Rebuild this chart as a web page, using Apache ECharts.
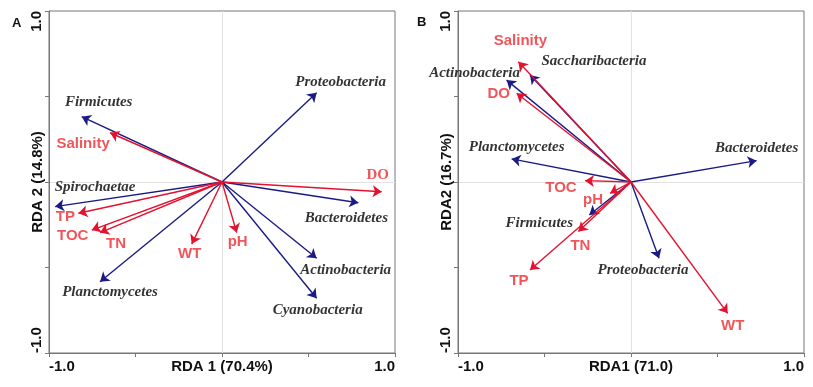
<!DOCTYPE html>
<html>
<head>
<meta charset="utf-8">
<script src="https://cdn.jsdelivr.net/npm/echarts@6/dist/echarts.min.js"></script>
<style>
html,body{margin:0;padding:0;background:#fff;}
#chart{width:813px;height:387px;}
</style>
</head>
<body>
<div id="chart"></div>
<script>
// ---------- Data ----------
// Panel A
var aSpeciesNames = ['Proteobacteria','Firmicutes','Spirochaetae','Bacteroidetes','Actinobacteria','Cyanobacteria','Planctomycetes'];
var aSpeciesX = [0.547,-0.811,-0.965,0.788,0.547,0.547,-0.705];
var aSpeciesY = [0.522,0.382,-0.144,-0.121,-0.446,-0.680,-0.583];
var aEnvNames = ['Salinity','DO','TP','TOC','TN','WT','pH'];
var aEnvX = [-0.647,0.923,-0.830,-0.753,-0.705,-0.175,0.085];
var aEnvY = [0.288,-0.057,-0.183,-0.281,-0.296,-0.363,-0.296];
// Panel B
var bSpeciesNames = ['Saccharibacteria','Actinobacteria','Planctomycetes','Bacteroidetes','Firmicutes','Proteobacteria'];
var bSpeciesX = [-0.584,-0.719,-0.690,0.726,-0.241,0.162];
var bSpeciesY = [0.626,0.596,0.135,0.125,-0.193,-0.446];
var bEnvNames = ['Salinity','DO','TOC','pH','TN','TP','WT'];
var bEnvX = [-0.651,-0.661,-0.266,-0.121,-0.304,-0.584,0.559];
var bEnvY = [0.703,0.519,0.008,-0.066,-0.290,-0.515,-0.768];
// Axis text
var axisTicks = [-1.0,-0.5,0,0.5,1.0];
var aAxisNames = ['RDA 1 (70.4%)','RDA 2 (14.8%)'];
var bAxisNames = ['RDA1 (71.0)','RDA2 (16.7%)'];
var panelLetters = ['A','B'];

// ---------- Layout (label offsets in px from arrow tips) ----------
var aSpeciesOff = [[24,-11],[17,-15],[40,-19],[-12,15],[29,12],[1,12],[10,10]];
var aEnvOff = [[-27,11],[-4,-17],[-13,4],[-19,6],[16,11],[-2,10],[1,9]];
var bSpeciesOff = [[64,-14],[-32,-7],[5,-12],[0,-13],[-50,8],[-16,12]];
var bEnvOff = [[2,-21],[-18,1],[-24,7],[-17,7],[2,14],[-11,11],[5,13]];

var BLUE = '#1b1b86';
var RED = '#e3122e';
var RED_TXT = '#ec2a30';
var AXIS_COL = '#777';
var SANS = '"Liberation Sans",Arial,sans-serif';
var SERIF = '"Liberation Serif","Times New Roman",serif';

function arrowSeries(idx, xs, ys, color){
  return {
    type:'lines', coordinateSystem:'cartesian2d', xAxisIndex:idx, yAxisIndex:idx,
    symbol:['none','arrow'], symbolSize:9, silent:true, z:10,
    lineStyle:{color:color, width:1.4, opacity:1},
    data: xs.map(function(x,i){ return {coords:[[0,0],[x, ys[i]]]}; })
  };
}
function labelSeries(idx, names, xs, ys, offs, species, serifNames){
  return {
    type:'scatter', xAxisIndex:idx, yAxisIndex:idx, symbolSize:0, silent:true, z:12,
    data: names.map(function(n,i){
      var serif = species || (serifNames && serifNames.indexOf(n) >= 0);
      return {
        name:n, value:[xs[i], ys[i]],
        label:{
          show:true, position:'inside', offset:offs[i], formatter:n,
          fontFamily: serif ? SERIF : SANS,
          fontStyle: species ? 'italic' : 'normal',
          fontWeight:'bold', fontSize:15,
          color: species ? '#000' : RED_TXT
        }
      };
    })
  };
}
function centerLines(idx){
  return {
    type:'scatter', xAxisIndex:idx, yAxisIndex:idx, symbolSize:0, silent:true, z:0, data:[],
    markLine:{silent:true, symbol:'none', label:{show:false}, z:0,
      lineStyle:{color:'#e2e2e2', type:'solid', width:1},
      data:[{xAxis:0},{yAxis:0}]}
  };
}
function xAx(idx, name){
  return {
    gridIndex:idx, type:'value', min:-1, max:1, interval:0.5,
    name:name, nameLocation:'middle', nameGap:6, nameMoveOverlap:false,
    nameTextStyle:{fontFamily:SANS, fontWeight:'bold', fontSize:15, color:'#111', verticalAlign:'top'},
    axisLine:{show:true, onZero:false, lineStyle:{color:AXIS_COL, width:1}},
    axisTick:{show:true, inside:false, length:4, lineStyle:{color:AXIS_COL}},
    splitLine:{show:false},
    axisLabel:{show:true, margin:6, fontFamily:SANS, fontWeight:'bold', fontSize:15, color:'#111',
      alignMinLabel:'left', alignMaxLabel:'right',
      formatter:function(v){ return (v===axisTicks[0]||v===axisTicks[4]) ? v.toFixed(1) : ''; }}
  };
}
function yAx(idx, name){
  return {
    gridIndex:idx, type:'value', min:-1, max:1, interval:0.5,
    name:name, nameLocation:'middle', nameGap:4, nameRotate:90, nameMoveOverlap:false,
    nameTextStyle:{fontFamily:SANS, fontWeight:'bold', fontSize:15, color:'#111'},
    axisLine:{show:true, onZero:false, lineStyle:{color:AXIS_COL, width:1}},
    axisTick:{show:true, inside:false, length:4, lineStyle:{color:AXIS_COL}},
    splitLine:{show:false},
    axisLabel:{show:true, rotate:90, margin:5, fontFamily:SANS, fontWeight:'bold', fontSize:15, color:'#111',
      alignMinLabel:'left', alignMaxLabel:'right',
      formatter:function(v){ return (v===axisTicks[0]||v===axisTicks[4]) ? v.toFixed(1) : ''; }}
  };
}

var chart = echarts.init(document.getElementById('chart'), null, {renderer:'canvas'});
chart.setOption({
  animation:false,
  backgroundColor:'#fff',
  title:[
    {text:panelLetters[0], left:12, top:17, padding:0, textStyle:{fontFamily:SANS, fontWeight:'bold', fontSize:13, color:'#111'}},
    {text:panelLetters[1], left:417, top:16, padding:0, textStyle:{fontFamily:SANS, fontWeight:'bold', fontSize:13, color:'#111'}}
  ],
  grid:[
    {left:49, top:11, width:346, height:342, containLabel:false, outerBoundsMode:'none', show:true, borderColor:AXIS_COL, borderWidth:1, backgroundColor:'transparent'},
    {left:458, top:11, width:346, height:342, containLabel:false, outerBoundsMode:'none', show:true, borderColor:AXIS_COL, borderWidth:1, backgroundColor:'transparent'}
  ],
  xAxis:[xAx(0, aAxisNames[0]), xAx(1, bAxisNames[0])],
  yAxis:[yAx(0, aAxisNames[1]), yAx(1, bAxisNames[1])],
  series:[
    centerLines(0), centerLines(1),
    arrowSeries(0, aSpeciesX, aSpeciesY, BLUE),
    arrowSeries(0, aEnvX, aEnvY, RED),
    arrowSeries(1, bSpeciesX, bSpeciesY, BLUE),
    arrowSeries(1, bEnvX, bEnvY, RED),
    labelSeries(0, aSpeciesNames, aSpeciesX, aSpeciesY, aSpeciesOff, true),
    labelSeries(0, aEnvNames, aEnvX, aEnvY, aEnvOff, false, ['DO']),
    labelSeries(1, bSpeciesNames, bSpeciesX, bSpeciesY, bSpeciesOff, true),
    labelSeries(1, bEnvNames, bEnvX, bEnvY, bEnvOff, false)
  ]
});
</script>
</body>
</html>
